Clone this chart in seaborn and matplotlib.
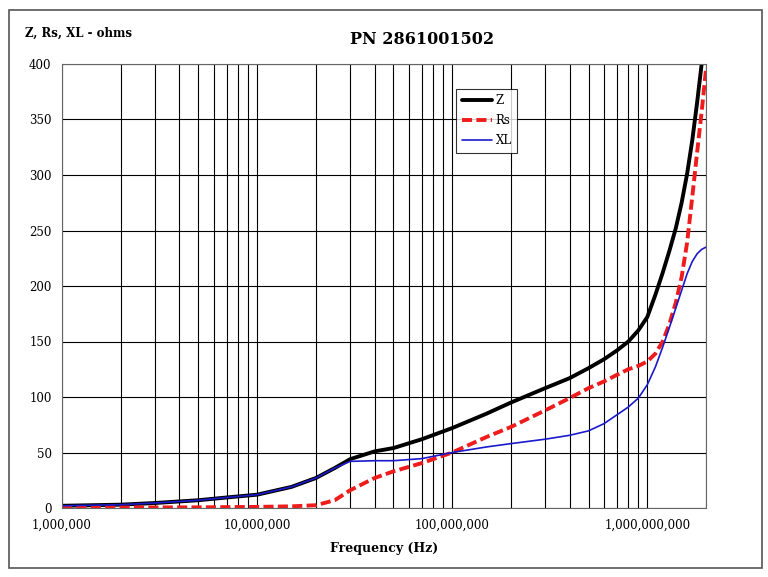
import numpy as np
import pandas as pd
import matplotlib
matplotlib.use("Agg")
import matplotlib.pyplot as plt
import matplotlib.ticker as ticker
from matplotlib.patches import Rectangle
import seaborn as sns

# values
freq_hz = [1e6, 2e6, 3e6, 5e6, 7e6, 1e7, 1.5e7, 2e7, 2.5e7, 3e7, 4e7, 5e7, 7e7, 1e8,
           1.5e8, 2e8, 3e8, 4e8, 5e8, 6e8, 7e8, 8e8, 9e8, 1e9, 1.1e9, 1.2e9, 1.3e9,
           1.4e9, 1.5e9, 1.6e9, 1.7e9, 1.8e9, 1.9e9, 2e9]
z_ohms = [2, 3, 4.5, 7, 9.5, 12, 19, 27, 36, 44, 51, 54, 62, 72,
          85, 95, 108, 117, 126, 134, 142, 150, 160, 172, 192, 212, 232,
          252, 275, 301, 331, 365, 400, 460]
rs_ohms = [0.5, 0.5, 0.5, 0.6, 0.8, 1, 1.5, 2.5, 7, 16, 27, 33, 40.5, 50,
           64, 73, 88, 99, 108, 114, 120, 125, 128, 132, 139, 150, 166,
           185, 208, 239, 280, 320, 357, 395]
xl_ohms = [2, 3, 4.5, 7, 9.5, 12, 19, 27, 36, 42, 42.6, 42.6, 44.5, 50,
           55, 58, 62, 65.5, 69.5, 76, 84, 91, 99, 111, 127, 145, 163,
           180, 196, 211, 222, 229, 233, 235]

y_ticks = list(range(0, 401, 50))
x_ticks = [1e6, 1e7, 1e8, 1e9]

df = pd.DataFrame({"freq": freq_hz, "Z": z_ohms, "Rs": rs_ohms, "XL": xl_ohms})

sns.set_style("white")
plt.rcParams['font.family'] = ['DejaVu Serif']
plt.rcParams['text.color'] = 'black'
plt.rcParams['axes.labelcolor'] = 'black'
plt.rcParams['xtick.color'] = 'black'
plt.rcParams['ytick.color'] = 'black'

fig = plt.figure(figsize=(7.68, 5.77), dpi=100)
ax = fig.add_axes([62/768, 69/577, 644/768, 444/577])

# outer frame around the whole chart
fig.patches.append(Rectangle((9/768, 9/577), 753/768, 558/577, transform=fig.transFigure,
                             fill=False, edgecolor='#555555', lw=1.2))

sns.lineplot(data=df, x="freq", y="Z", ax=ax, color='black', lw=2.8, label='Z')
sns.lineplot(data=df, x="freq", y="Rs", ax=ax, color='#ee1c1c', lw=2.8, label='Rs')
ax.lines[-1].set_dashes([2.6, 1.1])
sns.lineplot(data=df, x="freq", y="XL", ax=ax, color='#1a1acc', lw=1.2, label='XL')

ax.set_xscale('log')
ax.set_xlim(1e6, 2e9)
ax.set_ylim(0, 400)
ax.set_yticks(y_ticks)
ax.set_xticks(x_ticks)
ax.xaxis.set_minor_locator(ticker.LogLocator(base=10, subs=np.arange(2, 10)))
ax.xaxis.set_minor_formatter(ticker.NullFormatter())
ax.xaxis.set_major_formatter(ticker.FuncFormatter(lambda v, p: f"{int(round(v)):,}"))

ax.grid(True, which='both', axis='x', color='black', lw=0.8)
ax.grid(True, which='major', axis='y', color='black', lw=0.8)
ax.tick_params(axis='x', which='both', length=0, labelsize=8.5, pad=8)
ax.tick_params(axis='y', which='major', length=4, width=0.8, labelsize=8.5)
for s in ax.spines.values():
    s.set_color('#666666')
    s.set_linewidth(0.8)

ax.set_xlabel("Frequency (Hz)", fontsize=9, fontweight='bold', labelpad=7)
ax.set_ylabel("")
fig.text(25/768, 1 - 33/577, "Z, Rs, XL - ohms", fontsize=8.5, fontweight='bold', va='center')
fig.text(422/768, 1 - 40/577, "PN 2861001502", fontsize=11.5, fontweight='bold',
         ha='center', va='center')

leg = ax.legend(loc='upper left', bbox_to_anchor=(0.603, 0.957), fontsize=8.5, frameon=True,
                fancybox=False, handlelength=2.6, borderpad=0.45, labelspacing=0.6,
                handletextpad=0.3)
leg.get_frame().set_edgecolor('black')
leg.get_frame().set_linewidth(0.8)

fig.savefig("out.png", dpi=100, facecolor='white')
